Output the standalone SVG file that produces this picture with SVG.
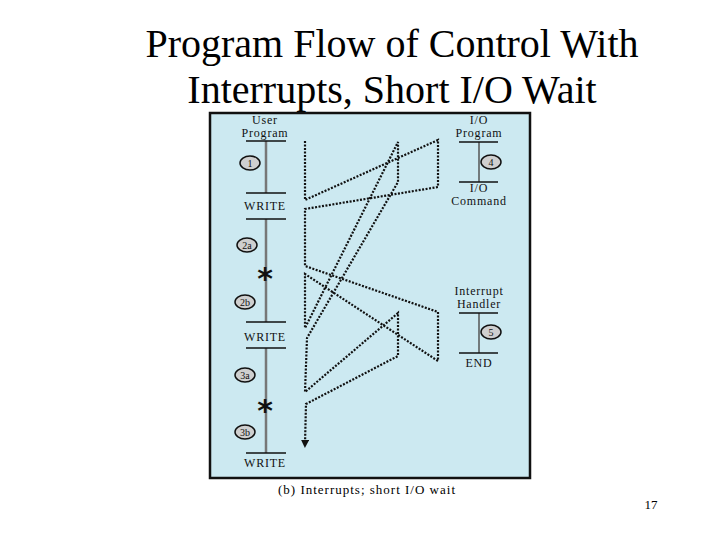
<svg xmlns="http://www.w3.org/2000/svg" width="720" height="540" viewBox="0 0 720 540">
<style>
text{font-family:"Liberation Serif","Times New Roman",serif}
.t{fill:#000}
.lbl{font-size:12px;letter-spacing:0.8px;text-anchor:middle;fill:#111}
.bar{stroke:#111;stroke-width:1.3}
.vl{stroke:#777;stroke-width:2.5}
.c{fill:#cfcfcf;stroke:#111;stroke-width:1.5}
.cn{font-size:10px;text-anchor:middle;fill:#111}
.fl{fill:none;stroke:#111;stroke-width:2.2;stroke-dasharray:2 1.5}
.ast{font-family:"DejaVu Sans",sans-serif;font-size:30px;font-weight:bold;text-anchor:middle;fill:#111}
</style>
<defs><marker id="ah" markerWidth="8" markerHeight="8" refX="4" refY="4" orient="auto" markerUnits="userSpaceOnUse"><path d="M0,0 L8,4 L0,8 z" fill="#111"/></marker></defs>
<rect width="720" height="540" fill="#fff"/>
<text class="t" x="392" y="57" style="font-size:40px;text-anchor:middle">Program Flow of Control With</text>
<text class="t" x="392" y="103" style="font-size:40px;text-anchor:middle">Interrupts, Short I/O Wait</text>
<rect x="210" y="113" width="320" height="365" fill="#cce9f1" stroke="#111" stroke-width="2.5"/>
<g id="user">
<text class="lbl" x="265" y="124">User</text><text class="lbl" x="265" y="137">Program</text>
<line class="vl" x1="266" y1="141" x2="266" y2="193"/><line class="vl" x1="266" y1="219" x2="266" y2="322"/><line class="vl" x1="266" y1="348" x2="266" y2="453"/>
<line class="bar" x1="246" y1="141" x2="286" y2="141"/>
<line class="bar" x1="246" y1="193" x2="286" y2="193"/><text class="lbl" x="265" y="210">WRITE</text><line class="bar" x1="246" y1="219" x2="286" y2="219"/>
<line class="bar" x1="246" y1="322" x2="286" y2="322"/><text class="lbl" x="265" y="341">WRITE</text><line class="bar" x1="246" y1="348" x2="286" y2="348"/>
<line class="bar" x1="246" y1="453" x2="286" y2="453"/><text class="lbl" x="265" y="467">WRITE</text>
<ellipse class="c" cx="250" cy="163" rx="10" ry="7"/><text class="cn" x="250" y="167">1</text>
<ellipse class="c" cx="247" cy="245" rx="10" ry="7"/><text class="cn" x="247" y="249">2a</text>
<ellipse class="c" cx="245" cy="302" rx="10" ry="7"/><text class="cn" x="245" y="306">2b</text>
<ellipse class="c" cx="245" cy="375" rx="10" ry="7"/><text class="cn" x="245" y="379">3a</text>
<ellipse class="c" cx="245" cy="432" rx="10" ry="7"/><text class="cn" x="245" y="436">3b</text>
<text class="ast" x="265" y="289">*</text><text class="ast" x="265" y="421">*</text>
</g>
<g id="io">
<text class="lbl" x="479" y="124">I/O</text><text class="lbl" x="479" y="137">Program</text>
<line x1="479" y1="142" x2="479" y2="182" stroke="#555" stroke-width="1.5"/>
<line class="bar" x1="459" y1="142" x2="498" y2="142"/><line class="bar" x1="459" y1="182" x2="498" y2="182"/>
<ellipse class="c" cx="491" cy="162" rx="10" ry="7"/><text class="cn" x="491" y="166">4</text>
<text class="lbl" x="479" y="192">I/O</text><text class="lbl" x="479" y="205">Command</text>
</g>
<g id="handler">
<text class="lbl" x="479" y="295">Interrupt</text><text class="lbl" x="479" y="308">Handler</text>
<line x1="479" y1="313" x2="479" y2="353" stroke="#555" stroke-width="1.5"/>
<line class="bar" x1="459" y1="313" x2="498" y2="313"/><line class="bar" x1="459" y1="353" x2="498" y2="353"/>
<ellipse class="c" cx="491" cy="332" rx="10" ry="7"/><text class="cn" x="491" y="336">5</text>
<text class="lbl" x="479" y="367">END</text>
</g>
<g id="connectors">
<polyline class="fl" points="305,141 305,200 438,140 438,187 305,209 305,266 438,312 438,361 305,274 305,328 398,142 398,182 307,338 305,392 398,313 398,356 306,404 305,444" marker-end="url(#ah)"/>
</g>
<text class="t" x="367" y="494" style="font-size:13px;letter-spacing:1px;text-anchor:middle">(b) Interrupts; short I/O wait</text>
<text class="t" x="651" y="509" style="font-size:13px;text-anchor:middle">17</text>
</svg>
